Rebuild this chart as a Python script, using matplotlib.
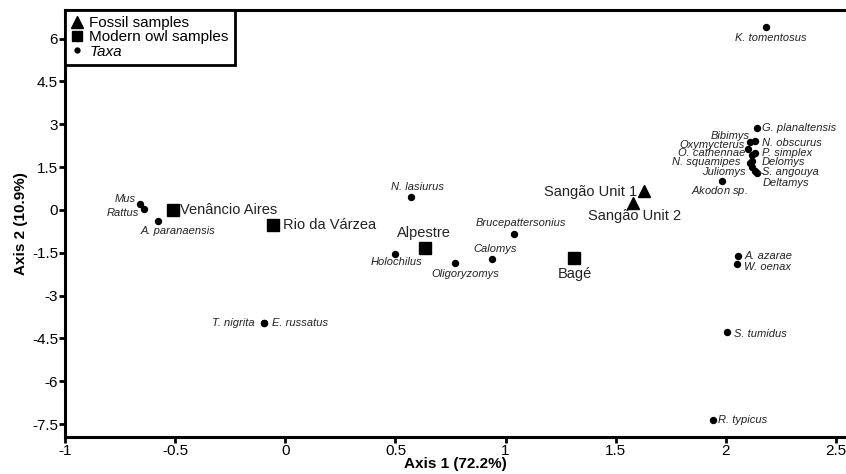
import matplotlib

matplotlib.use("Agg")
import matplotlib.pyplot as plt  # noqa: E402
from matplotlib.lines import Line2D  # noqa: E402

plt.rcParams["font.family"] = ["Liberation Sans", "DejaVu Sans"]
plt.rcParams["mathtext.fontset"] = "custom"
plt.rcParams["mathtext.rm"] = "Liberation Sans"
plt.rcParams["mathtext.it"] = "Liberation Sans:italic"

# fossil samples
FOSSIL_NAMES = ["Sangão Unit 1", "Sangão Unit 2"]
FOSSIL_X = [1.63, 1.58]
FOSSIL_Y = [0.68, 0.24]

# modern owl pellet samples
OWL_NAMES = ["Venâncio Aires", "Rio da Várzea", "Alpestre", "Bagé"]
OWL_X = [-0.51, -0.055, 0.636, 1.31]
OWL_Y = [0.0, -0.54, -1.34, -1.67]

# taxa
TAXA_NAMES = ["K. tomentosus", "G. planaltensis", "N. obscurus", "Bibimys",
              "Oxymycterus", "P. simplex", "O. cathennae", "Delomys",
              "N. squamipes", "Juliomys", "S. angouya", "Deltamys",
              r"$\it{Akodon}$ sp.", "Mus", "Rattus", "A. paranaensis",
              "N. lasiurus", "Brucepattersonius", "Holochilus", "Calomys",
              "Oligoryzomys", "A. azarae", "W. oenax", "S. tumidus",
              "R. typicus", "T. nigrita", "E. russatus"]
TAXA_X = [2.18, 2.14, 2.13, 2.11,
          2.10, 2.13, 2.12, 2.12,
          2.11, 2.12, 2.14, 2.13,
          1.98, -0.66, -0.64, -0.58,
          0.57, 1.04, 0.50, 0.94,
          0.77, 2.055, 2.05, 2.003,
          1.94, -0.095, -0.095]
TAXA_Y = [6.42, 2.87, 2.43, 2.39,
          2.15, 2.01, 1.91, 1.73,
          1.63, 1.49, 1.31, 1.38,
          1.03, 0.22, 0.04, -0.39,
          0.47, -0.86, -1.56, -1.73,
          -1.85, -1.63, -1.91, -4.27,
          -7.34, -3.96, -3.96]

# label placement: (dx px, dy px, ha)
LABEL_POS = {
    "Sangão Unit 1": (-7, -1, "right"), "Sangão Unit 2": (1, -13, "center"),
    "Venâncio Aires": (7, 0, "left"), "Rio da Várzea": (10, 0, "left"),
    "Alpestre": (-2, 15, "center"), "Bagé": (1, -16, "center"),
    "K. tomentosus": (5, -11, "center"), "G. planaltensis": (5, 0, "left"),
    "N. obscurus": (7, -2, "left"), "Bibimys": (0, 6, "right"),
    "Oxymycterus": (-3, 4, "right"), "P. simplex": (7, 0, "left"),
    "O. cathennae": (-7, 2, "right"), "Delomys": (9, -1, "left"),
    "N. squamipes": (-10, 1, "right"), "Juliomys": (-7, -5, "right"),
    "S. angouya": (5, 1, "left"), "Deltamys": (8, -12, "left"),
    r"$\it{Akodon}$ sp.": (-2, -10, "center"), "Mus": (-4, 5, "right"),
    "Rattus": (-5, -4, "right"), "A. paranaensis": (20, -10, "center"),
    "N. lasiurus": (7, 10, "center"), "Brucepattersonius": (6, 11, "center"),
    "Holochilus": (1, -8, "center"), "Calomys": (3, 10, "center"),
    "Oligoryzomys": (10, -11, "center"), "A. azarae": (6, 0, "left"),
    "W. oenax": (7, -3, "left"), "S. tumidus": (7, -2, "left"),
    "R. typicus": (5, 0, "left"), "T. nigrita": (-10, 0, "right"),
    "E. russatus": (8, 0, "left"),
}


def label(ax, name, x, y, size, style):
    dx, dy, ha = LABEL_POS[name]
    kw = {}
    if name == "Deltamys":
        kw["arrowprops"] = dict(arrowstyle="-", lw=0.5, color="#333333",
                                shrinkA=0, shrinkB=3)
    ax.annotate(name, (x, y), xytext=(dx, dy), textcoords="offset pixels",
                ha=ha, va="center", fontsize=size, style=style,
                color="#222222", **kw)


fig = plt.figure(figsize=(8.46, 4.74), dpi=100)
ax = fig.add_axes([65 / 846, 37 / 474, 781 / 846, 427 / 474])
ax.set_xlim(-1, 2.545)
ax.set_ylim(-7.95, 7.0)

ax.plot(TAXA_X, TAXA_Y, "o", color="black", ms=4.3, ls="none", zorder=3)
ax.plot(OWL_X, OWL_Y, "s", color="black", ms=8, ls="none", zorder=3)
ax.plot(FOSSIL_X, FOSSIL_Y, "^", color="black", ms=9, ls="none", zorder=3)

for n, x, y in zip(TAXA_NAMES, TAXA_X, TAXA_Y):
    label(ax, n, x, y, 8, "italic")
for n, x, y in zip(OWL_NAMES + FOSSIL_NAMES, OWL_X + FOSSIL_X, OWL_Y + FOSSIL_Y):
    label(ax, n, x, y, 10.5, "normal")

ax.set_xticks([-1, -0.5, 0, 0.5, 1, 1.5, 2, 2.5])
ax.set_xticklabels(["-1", "-0.5", "0", "0.5", "1", "1.5", "2", "2.5"])
ax.set_yticks([-7.5, -6, -4.5, -3, -1.5, 0, 1.5, 3, 4.5, 6])
ax.set_yticklabels(["-7.5", "-6", "-4.5", "-3", "-1.5", "0", "1.5", "3", "4.5", "6"])
ax.tick_params(length=4, width=2, labelsize=11, pad=1, colors="black")
ax.spines["right"].set_visible(False)
for s in ("left", "bottom", "top"):
    ax.spines[s].set_linewidth(2.2)

ax.set_xlabel("Axis 1 (72.2%)", fontsize=11, weight="bold", labelpad=-1)
ax.set_ylabel("Axis 2 (10.9%)", fontsize=11, weight="bold", labelpad=3)

handles = [
    Line2D([], [], marker="^", color="black", ls="none", ms=8),
    Line2D([], [], marker="s", color="black", ls="none", ms=7.5),
    Line2D([], [], marker="o", color="black", ls="none", ms=3.5),
]
leg = ax.legend(handles, ["Fossil samples", "Modern owl samples", "Taxa"],
                loc="upper left", bbox_to_anchor=(0, 1), borderaxespad=0,
                fontsize=11, fancybox=False, edgecolor="black",
                framealpha=1, handlelength=0.8, handletextpad=0.4,
                labelspacing=0.02, borderpad=0.4)
leg.get_frame().set_linewidth(2)
leg.get_texts()[2].set_fontstyle("italic")

fig.savefig("out.png", dpi=100)
